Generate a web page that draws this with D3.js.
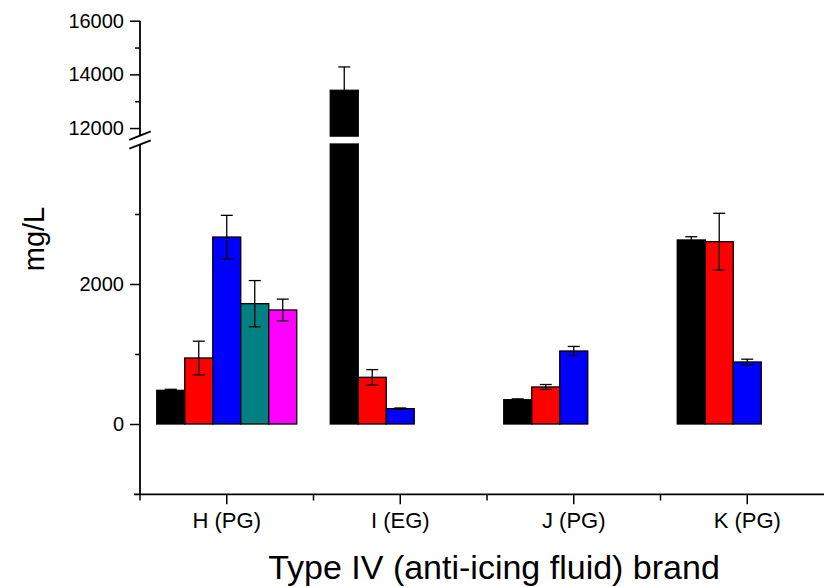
<!DOCTYPE html>
<html><head><meta charset="utf-8">
<script src="https://cdn.jsdelivr.net/npm/d3@7"></script>
<style>body{margin:0;background:#fff}svg{display:block}text{font-family:"Liberation Sans",Arial,sans-serif}</style>
</head><body><svg id="c" width="824" height="587"></svg>
<script>
const categories = ["H (PG)", "I (EG)", "J (PG)", "K (PG)"];
const seriesNames = ["s1", "s2", "s3", "s4", "s5"];
const seriesColors = ["#000000", "#ff0000", "#0000ff", "#008080", "#ff00ff"];
const s1 = [481, 13407, 347, 2629];
const s2 = [943, 667, 529, 2605];
const s3 = [2671, 219, 1043, 886];
const s4 = [1719, null, null, null];
const s5 = [1629, null, null, null];
const e1 = [15, 870, 12, 46];
const e2 = [240, 110, 35, 405];
const e3 = [310, 10, 65, 40];
const e4 = [330, null, null, null];
const e5 = [155, null, null, null];
const lowerTicks = [0, 2000];
const lowerMinor = [1000, 3000];
const upperTicks = [12000, 14000, 16000];
const upperMinor = [13000, 15000];

const values = [s1, s2, s3, s4, s5];
const errors = [e1, e2, e3, e4, e5];

const svg = d3.select("#c");
const x = d3.scaleBand().domain(categories).range([140, 834]).padding(0);
const xi = d3.scaleBand().domain(seriesNames).range([16.75, 156.75]).padding(0);
const yLow = d3.scaleLinear().domain([-1000, 4000]).range([494, 144]);
const yUp = d3.scaleLinear().domain([11700, 16000]).range([136.1, 20.7]);
const lowTop = 4000, upBot = 11700;

const data = [];
values.forEach((arr, si) => arr.forEach((v, ci) => {
  if (v != null) data.push({s: si, c: ci, v: v, e: errors[si][ci]});
}));

const g = svg.append("g");
g.selectAll("rect.low").data(data).join("rect")
  .attr("x", d => x(categories[d.c]) + xi(seriesNames[d.s]))
  .attr("width", xi.bandwidth())
  .attr("y", d => yLow(Math.min(d.v, lowTop)))
  .attr("height", d => yLow(0) - yLow(Math.min(d.v, lowTop)))
  .attr("fill", d => seriesColors[d.s])
  .attr("stroke", "#000").attr("stroke-width", 1.3);
const upData = data.filter(d => d.v > upBot);
g.selectAll("rect.up").data(upData).join("rect")
  .attr("x", d => x(categories[d.c]) + xi(seriesNames[d.s]))
  .attr("width", xi.bandwidth())
  .attr("y", d => yUp(d.v))
  .attr("height", d => yUp(upBot) - yUp(d.v))
  .attr("fill", d => seriesColors[d.s])
  .attr("stroke", "#000").attr("stroke-width", 1.3);

function ys(v) { return v > upBot ? yUp(v) : yLow(v); }
const eb = g.selectAll("g.eb").data(data).join("g")
  .attr("transform", d => `translate(${x(categories[d.c]) + xi(seriesNames[d.s]) + xi.bandwidth()/2},0)`);
eb.append("line").attr("y1", d => ys(d.v + d.e)).attr("y2", d => ys(d.v - d.e))
  .attr("stroke", "#000").attr("stroke-width", 1.3);
eb.append("line").attr("x1", -6).attr("x2", 6).attr("y1", d => ys(d.v + d.e)).attr("y2", d => ys(d.v + d.e))
  .attr("stroke", "#000").attr("stroke-width", 1.3);
eb.append("line").attr("x1", -6).attr("x2", 6).attr("y1", d => ys(d.v - d.e)).attr("y2", d => ys(d.v - d.e))
  .attr("stroke", "#000").attr("stroke-width", 1.3);

const fontFam = '"Liberation Sans", Arial, sans-serif';
const axLow = svg.append("g").attr("transform", "translate(140,0)")
  .call(d3.axisLeft(yLow).tickValues(lowerTicks).tickSize(10).tickPadding(6).tickFormat(d3.format("d")));
const axLowMinor = svg.append("g").attr("transform", "translate(140,0)")
  .call(d3.axisLeft(yLow).tickValues(lowerMinor).tickSize(5).tickFormat(""));
const axUp = svg.append("g").attr("transform", "translate(140,0)")
  .call(d3.axisLeft(yUp).tickValues(upperTicks).tickSize(10).tickPadding(6).tickFormat(d3.format("d")));
const axUpMinor = svg.append("g").attr("transform", "translate(140,0)")
  .call(d3.axisLeft(yUp).tickValues(upperMinor).tickSize(5).tickFormat(""));
[axLow, axLowMinor, axUp, axUpMinor].forEach(a => {
  a.select(".domain").remove();
  a.selectAll("line").attr("stroke", "#000").attr("stroke-width", 1.5);
  a.selectAll("text").attr("fill", "#000").style("font-size", "20px").style("font-family", fontFam);
});
svg.append("line").attr("x1", 140).attr("x2", 140).attr("y1", yUp(16000)).attr("y2", yUp(upBot) - 1)
  .attr("stroke", "#000").attr("stroke-width", 1.8);
svg.append("line").attr("x1", 140).attr("x2", 140).attr("y1", yLow(lowTop) + 0.5).attr("y2", yLow(-1000))
  .attr("stroke", "#000").attr("stroke-width", 1.8);
[yUp(upBot) - 0.5, yLow(lowTop) + 0.5].forEach(yy => {
  svg.append("line").attr("x1", 129.3).attr("x2", 150.7).attr("y1", yy + 4.2).attr("y2", yy - 4.2)
    .attr("stroke", "#000").attr("stroke-width", 1.8);
});

svg.append("line").attr("x1", 134).attr("x2", 824).attr("y1", 494.3).attr("y2", 494.3)
  .attr("stroke", "#000").attr("stroke-width", 1.8);
const xAx = svg.append("g").attr("transform", "translate(0,494.3)")
  .call(d3.axisBottom(x).tickSize(10).tickPadding(8));
xAx.select(".domain").remove();
xAx.selectAll("line").attr("stroke", "#000").attr("stroke-width", 1.5);
xAx.selectAll("text").attr("fill", "#000").style("font-size", "22px").style("font-family", fontFam);
const bounds = categories.map(c => x(c));
svg.append("g").selectAll("line").data(bounds).join("line")
  .attr("x1", d => d).attr("x2", d => d).attr("y1", 494.3).attr("y2", 500.5)
  .attr("stroke", "#000").attr("stroke-width", 1.5);

svg.append("text").attr("x", 494).attr("y", 579).attr("text-anchor", "middle")
  .style("font-size", "34px").attr("fill", "#000").text("Type IV (anti-icing fluid) brand");
svg.append("text").attr("transform", "translate(44,239) rotate(-90)").attr("text-anchor", "middle")
  .style("font-size", "29px").attr("fill", "#000").text("mg/L");
</script></body></html>
